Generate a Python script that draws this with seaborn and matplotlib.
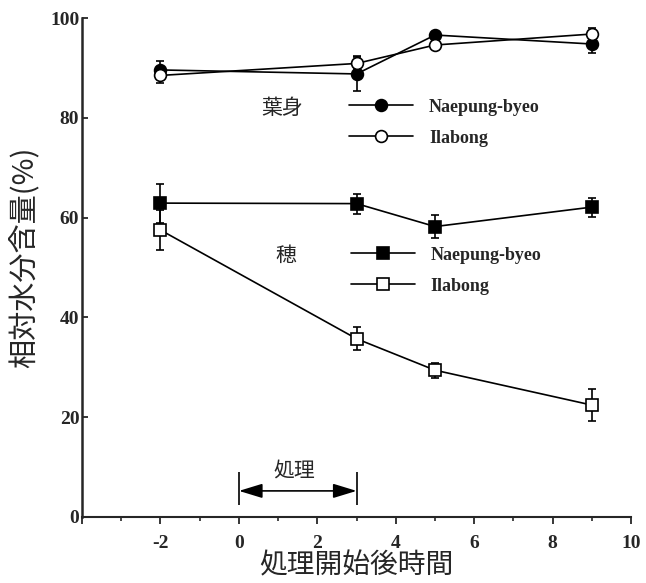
import numpy as np
import pandas as pd
import seaborn as sns
import matplotlib.pyplot as plt
from matplotlib.lines import Line2D
from matplotlib.ticker import MultipleLocator

# Hours after start of treatment
hours = [-2, 3, 5, 9]

# Leaf blade (葉身) relative water content
leaf_naepung = [89.6, 88.8, 96.6, 94.8]
leaf_naepung_err = [1.7, 3.5, 0.6, 1.8]
leaf_ilabong = [88.5, 90.9, 94.6, 96.8]
leaf_ilabong_err = [1.5, 1.2, 0.6, 1.2]

# Panicle (穂) relative water content
panicle_naepung = [62.9, 62.8, 58.2, 62.1]
panicle_naepung_err = [3.9, 2.0, 2.3, 1.9]
panicle_ilabong = [57.5, 35.7, 29.4, 22.4]
panicle_ilabong_err = [4.0, 2.3, 1.5, 3.2]

treat_start, treat_end = 0, 3

sns.set_theme(style="ticks")
plt.rcParams['font.family'] = ['Liberation Serif', 'DejaVu Serif']
cjk = ['Noto Sans CJK JP', 'DejaVu Sans']

series = [
    ("leaf", "Naepung-byeo", leaf_naepung, leaf_naepung_err, "o", "black"),
    ("leaf", "Ilabong", leaf_ilabong, leaf_ilabong_err, "o", "white"),
    ("panicle", "Naepung-byeo", panicle_naepung, panicle_naepung_err, "s", "black"),
    ("panicle", "Ilabong", panicle_ilabong, panicle_ilabong_err, "s", "white"),
]

fig = plt.figure(figsize=(6.46, 5.83), dpi=100)
ax = fig.add_axes([0.127, 0.1135, 0.85, 0.8555])

for organ, cultivar, vals, errs, mk, fc in series:
    df = pd.DataFrame({"hour": hours, "rwc": vals})
    ax.errorbar(hours, vals, yerr=errs, fmt="none", ecolor="black",
                elinewidth=1.2, capsize=3, capthick=1.2, zorder=2)
    sns.lineplot(data=df, x="hour", y="rwc", ax=ax, color="black",
                 linewidth=1.2, marker=mk, markersize=8.5, markerfacecolor=fc,
                 markeredgecolor="black", markeredgewidth=1.2, zorder=3)

ax.set_xlim(-4, 10)
ax.set_ylim(0, 100)
ax.xaxis.set_major_locator(MultipleLocator(2))
ax.xaxis.set_minor_locator(MultipleLocator(1))
ax.set_yticks([0, 20, 40, 60, 80, 100])
ax.tick_params(axis="x", which="major", direction="out", length=5, width=1.3, pad=8)
ax.tick_params(axis="x", which="minor", direction="out", length=3, width=1.2)
ax.tick_params(axis="y", direction="in", length=4, width=1.3, pad=2)
for lab in ax.get_xticklabels() + ax.get_yticklabels():
    lab.set_fontweight("bold")
    lab.set_fontsize(14)
ax.xaxis.set_major_formatter(plt.FuncFormatter(lambda v, p: "" if v < -2 else f"{v:g}"))

for side in ["top", "right"]:
    ax.spines[side].set_visible(False)
ax.spines["left"].set_linewidth(1.8)
ax.spines["bottom"].set_linewidth(1.5)

ax.set_xlabel("処理開始後時間", family=cjk, fontsize=20, labelpad=-1)
ax.set_ylabel("相対水分含量(%)", family=cjk, fontsize=21)
ax.yaxis.set_label_coords(-0.077, 0.52)

# legends
def handles(mk):
    return [Line2D([], [], color="black", lw=1.2, marker=mk, markersize=8.5,
                   markerfacecolor=fc, markeredgecolor="black", markeredgewidth=1.2)
            for fc in ("black", "white")]

names = ["Naepung-byeo", "Ilabong"]
leg_kw = dict(frameon=False, numpoints=1, handlelength=3.5, handletextpad=0.9,
              labelspacing=0.78, borderpad=0, borderaxespad=0,
              prop={"family": "Liberation Serif", "weight": "bold", "size": 13},
              bbox_transform=fig.transFigure, loc="upper left")
leg1 = ax.legend(handles("o"), names, bbox_to_anchor=(0.541, 0.831), **leg_kw)
ax.add_artist(leg1)
ax.legend(handles("s"), names, bbox_to_anchor=(0.544, 0.577), **leg_kw)

ax.text(1.1, 82.0, "葉身", family=cjk, fontsize=15, ha="center", va="center")
ax.text(1.2, 52.4, "穂", family=cjk, fontsize=15, ha="center", va="center")

# treatment period marker
ax.vlines([treat_start, treat_end], 2.4, 9.0, color="black", lw=1.2)
ax.annotate("", xy=(treat_end, 5.2), xytext=(treat_start, 5.2),
            arrowprops=dict(arrowstyle="<|-|>,head_length=0.72,head_width=0.22",
                            color="black", lw=1.2, mutation_scale=20,
                            shrinkA=0, shrinkB=0))
ax.text(1.4, 9.2, "処理", family=cjk, fontsize=15,
        ha="center", va="center")

fig.savefig("out.png", dpi=100)
